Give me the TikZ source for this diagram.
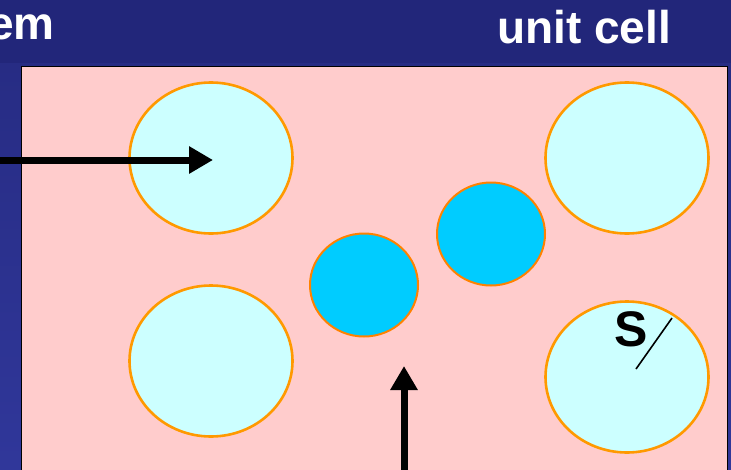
\documentclass[tikz,border=0pt]{standalone}
\usepackage{fontspec}
\setmainfont{Liberation Sans}
\usetikzlibrary{arrows.meta,shapes.geometric}
\definecolor{navy}{HTML}{22267A}
\definecolor{navylow}{HTML}{30379A}
\definecolor{navymid}{HTML}{272C84}
\definecolor{cellpink}{HTML}{FFCCCC}
\definecolor{lightcyan}{HTML}{CCFFFF}
\definecolor{darkcyan}{HTML}{00CCFF}
\definecolor{rimorange}{HTML}{FF9900}
\tikzset{
  bigball/.style={ellipse,draw=rimorange,line width=2.6pt,fill=lightcyan,minimum width=163pt,minimum height=151pt,inner sep=0pt},
  smallball/.style={ellipse,draw=rimorange!85!red,line width=2pt,fill=darkcyan,minimum width=108pt,minimum height=103pt,inner sep=0pt},
  fatarrow/.style={line width=7pt,-{Triangle[length=24pt,width=26pt]}},
  title/.style={text=white,font=\fontsize{46}{46}\selectfont\bfseries,inner sep=0pt,anchor=base west}
}
\begin{document}
\begin{tikzpicture}[x=1pt,y=-1pt]
\useasboundingbox (0,0) rectangle (731,469);
\clip (0,0) rectangle (731,469);
\fill[navy] (0,0) rectangle (731,63);
\shade[top color=navymid,bottom color=navylow] (0,63) rectangle (731,469);
\draw[fill=cellpink,line width=1.5pt] (21.5,66.5) rectangle (727.5,480);
\node[title] (em) at (-12,39) {em};
\node[title] (uc) at (497,43) {unit cell};
\node[bigball] (c1) at (211,158) {};
\node[bigball] (c2) at (627,158) {};
\node[bigball] (c3) at (211,361) {};
\node[bigball] (c4) at (627,377) {};
\node[smallball] (d1) at (364,285) {};
\node[smallball] (d2) at (491,234) {};
\node[font=\fontsize{50}{50}\selectfont\bfseries,inner sep=0pt] (s) at (631,329) {S};
\coordinate (rimS) at (672,318);
\draw[line width=1.6pt] (636,369) -- (rimS);
\coordinate (a1start) at (0,160);
\coordinate (a1end) at (213,160);
\draw[fatarrow] (a1start) -- (a1end);
\coordinate (a2start) at (404,475);
\coordinate (a2end) at (404,366);
\draw[fatarrow] (a2start) -- (a2end);
\end{tikzpicture}
\end{document}
